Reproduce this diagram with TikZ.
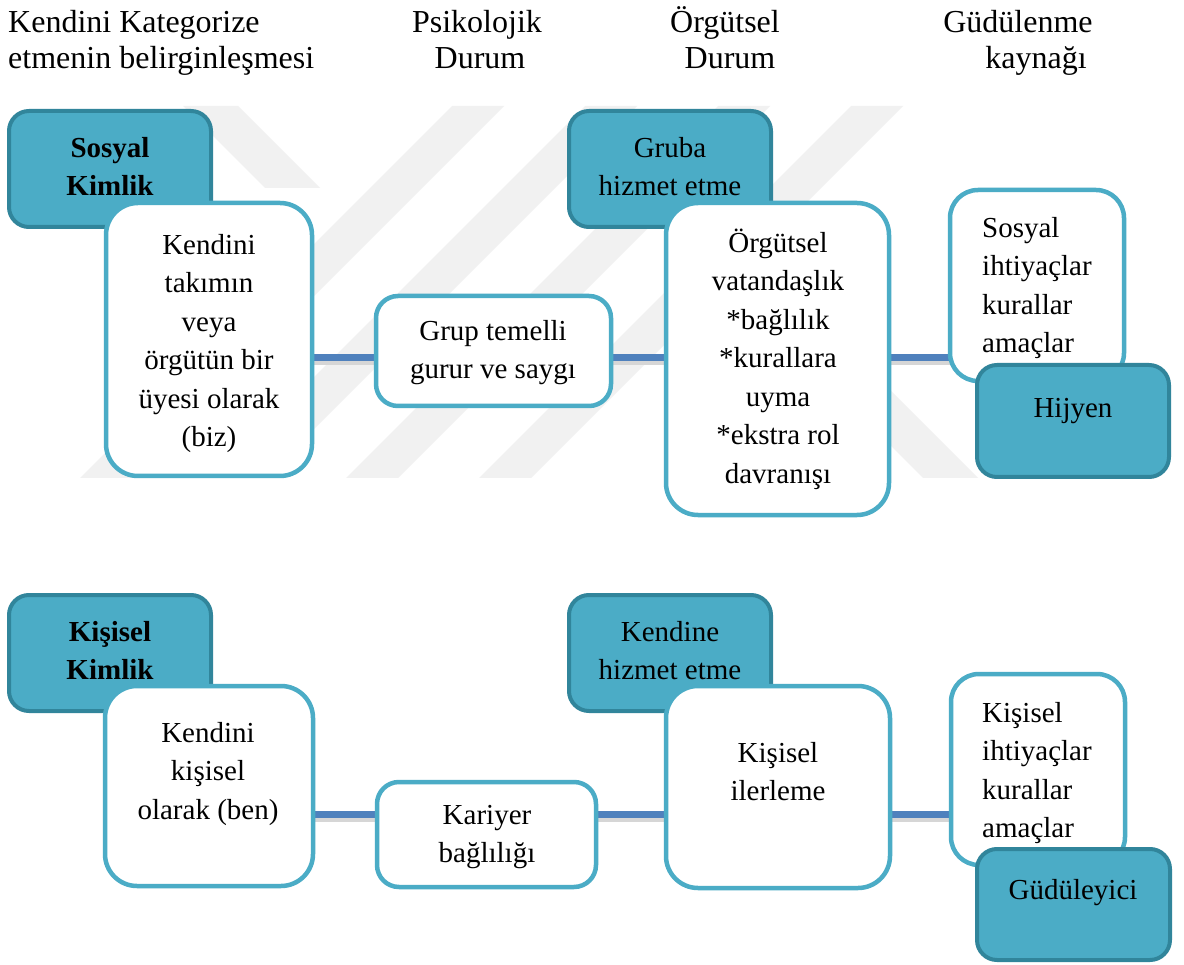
\documentclass[tikz,border=0pt]{standalone}
\usepackage{fontspec}
\setmainfont{Liberation Serif}
\pgfdeclarelayer{wmlayer}
\pgfdeclarelayer{connlayer}
\pgfsetlayers{wmlayer,connlayer,main}
\definecolor{tealfill}{RGB}{75,172,198}
\definecolor{tealdark}{RGB}{49,133,155}
\definecolor{connblue}{RGB}{79,129,189}
\definecolor{wmgray}{RGB}{241,241,241}
\newcommand{\lh}{\rule{0pt}{30pt}}
\begin{document}
\begin{tikzpicture}[x=1pt,y=-1pt,
  darkbox/.style={draw=tealdark, fill=tealfill, line width=4pt, rounded corners=20pt, inner sep=0pt, outer sep=0pt},
  whitebox/.style={draw=tealfill, fill=white, line width=4.5pt, rounded corners=#1, inner sep=0pt, outer sep=0pt},
  whitebox/.default=32pt,
  txt/.style={font=\fontsize{29}{38.5}\selectfont, align=center, inner sep=0pt, anchor=north},
  txtl/.style={font=\fontsize{29}{38.5}\selectfont, align=left, inner sep=0pt, anchor=north west},
  hdr/.style={font=\fontsize{32}{36}\selectfont, inner sep=0pt, anchor=base},
  conn/.style={draw=connblue, line width=7pt},
  connsh/.style={draw=black!16, line width=7pt, transform canvas={yshift=-4pt}},
  wm/.style={fill=wmgray}
]
\useasboundingbox (0,0) rectangle (1184,965);

% background and watermark
\begin{pgfonlayer}{wmlayer}
\fill[white] (0,0) rectangle (1184,965);
\foreach \t in {452,585,718,851} {
  \fill[wm] (\t,106) -- (\t+52,106) -- (\t-320,478) -- (\t-372,478) -- cycle;
}
\fill[wm] (183,106) -- (238,106) -- (320,188) -- (265,188) -- cycle;
\fill[wm] (745,300) -- (800,300) -- (978,478) -- (923,478) -- cycle;
\end{pgfonlayer}

% header
\node[hdr, anchor=base west] (h1a) at (8,33) {Kendini Kategorize};
\node[hdr, anchor=base west] (h1b) at (8,69) {etmenin belirginleşmesi};
\node[hdr] (h2a) at (477,33) {Psikolojik};
\node[hdr] (h2b) at (480,69) {Durum};
\node[hdr] (h3a) at (725,33) {Örgütsel};
\node[hdr] (h3b) at (730,69) {Durum};
\node[hdr] (h4a) at (1018,33) {Güdülenme};
\node[hdr] (h4b) at (1036,69) {kaynağı};

% top row
\node[darkbox, minimum width=202pt, minimum height=116pt] (sk) at (110,169) {};
\node[txt, font=\fontsize{29}{38.5}\selectfont\bfseries] (sk-t) at (110,127) {\lh Sosyal\\Kimlik};
\node[whitebox, minimum width=206pt, minimum height=273pt] (kt) at (209,339.5) {};
\node[txt] (kt-t) at (209,224) {\lh Kendini\\takımın\\veya\\örgütün bir\\üyesi olarak\\(biz)};
\node[whitebox=22pt, minimum width=235pt, minimum height=110pt] (gt) at (493.5,351) {};
\node[txt] (gt-t) at (493,310) {\lh Grup temelli\\gurur ve saygı};
\node[darkbox, minimum width=202pt, minimum height=116pt] (ghe) at (670,169) {};
\node[txt] (ghe-t) at (670,127) {\lh Gruba\\hizmet etme};
\node[whitebox, minimum width=223pt, minimum height=312pt] (ov) at (777.5,359) {};
\node[txt] (ov-t) at (778,222) {\lh Örgütsel\\vatandaşlık\\*bağlılık\\*kurallara\\uyma\\*ekstra rol\\davranışı};
\node[whitebox=28pt, minimum width=174pt, minimum height=191pt] (si) at (1037,285.5) {};
\node[txtl] (si-t) at (982,207) {\lh Sosyal\\ihtiyaçlar\\kurallar\\amaçlar};
\node[darkbox, minimum width=192pt, minimum height=112pt] (hij) at (1073,421) {};
\node[txt] (hij-t) at (1073,387) {\lh Hijyen};

% bottom row
\node[darkbox, minimum width=202pt, minimum height=116pt] (kk) at (110,653) {};
\node[txt, font=\fontsize{29}{38.5}\selectfont\bfseries] (kk-t) at (110,611) {\lh Kişisel\\Kimlik};
\node[whitebox, minimum width=208pt, minimum height=200pt] (kkb) at (209,786) {};
\node[txt] (kkb-t) at (208,712) {\lh Kendini\\kişisel\\olarak (ben)};
\node[whitebox=22pt, minimum width=219pt, minimum height=105pt] (kb) at (486.5,834.5) {};
\node[txt] (kb-t) at (487,794) {\lh Kariyer\\bağlılığı};
\node[darkbox, minimum width=202pt, minimum height=116pt] (khe) at (670,653) {};
\node[txt] (khe-t) at (670,611) {\lh Kendine\\hizmet etme};
\node[whitebox, minimum width=224pt, minimum height=202pt] (ki) at (778,787) {};
\node[txt] (ki-t) at (778,732) {\lh Kişisel\\ilerleme};
\node[whitebox=28pt, minimum width=174pt, minimum height=191pt] (kih) at (1038,769.5) {};
\node[txtl] (kih-t) at (982,692) {\lh Kişisel\\ihtiyaçlar\\kurallar\\amaçlar};
\node[darkbox, minimum width=193pt, minimum height=111pt] (gud) at (1073.5,904.5) {};
\node[txt] (gud-t) at (1073,869) {\lh Güdüleyici};

% connectors
\coordinate (rowA) at (0,358);
\coordinate (rowB) at (0,814);
\begin{pgfonlayer}{connlayer}
\foreach \a/\b/\r in {kt/gt/rowA, gt/ov/rowA, ov/si/rowA, kkb/kb/rowB, kb/ki/rowB, ki/kih/rowB} {
  \draw[connsh] (\a.east |- \r) -- (\b.west |- \r);
  \draw[conn] (\a.east |- \r) -- (\b.west |- \r);
}
\end{pgfonlayer}
\end{tikzpicture}
\end{document}
